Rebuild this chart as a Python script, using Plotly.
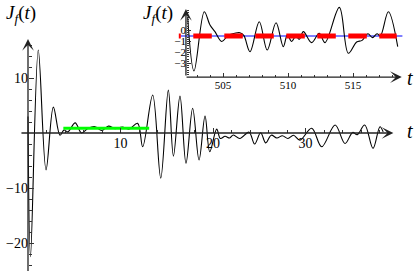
import plotly.graph_objects as go

W, H = 415, 271

# ---------------- data ----------------
t_main = [0.0, 0.27, 1.11, 1.95, 2.74, 3.46, 3.9, 4.3, 5.1, 5.78, 6.5, 7.24, 7.97,
          8.7, 9.4, 10.2, 10.9, 11.85, 12.4, 13.48, 14.35, 15.17, 15.72, 16.43,
          17.08, 17.8, 18.49, 19.14, 19.65, 20.4, 20.8, 21.3, 21.8, 22.2, 22.9,
          23.9, 24.5, 25.15, 25.7, 26.3, 26.9, 27.5, 28.1, 28.7, 29.4, 30.67,
          31.75, 33.2, 34.27, 35.1, 35.6, 36.4, 37.3, 38.05, 38.4]
f_main = [3.0, -22.5, 15.1, -6.7, 4.7, -0.4, 0.55, 0.2, 1.85, 0.0, 0.85, 1.15, 0.45,
          1.25, 0.8, 1.1, 0.7, 1.75, -2.5, 6.9, -8.2, 7.8, -4.2, 6.7,
          -5.5, 4.5, -4.9, 3.1, -3.4, 0.7, -1.0, -0.6, -0.9, -0.35, -1.0,
          0.15, -2.0, 0.05, -1.8, -0.4, -0.9, -0.5, -1.0, -0.4, -1.3, 0.85,
          -2.5, 1.45, -1.9, 0.1, -0.3, 1.45, -2.8, 1.15, 0.2]

green_t = [3.82, 13.1]
green_v = [0.85, 0.85]

t_inset = [502.28, 502.77, 503.56, 504.0, 504.38, 504.9, 505.4, 505.92, 506.3,
           506.6, 507.08, 507.79, 508.4, 509.08, 509.64, 509.95, 510.28, 510.6,
           510.87, 511.18, 511.82, 512.4, 512.85, 513.95, 514.64, 515.28, 515.7,
           516.15, 516.5, 516.85, 517.1, 517.72, 518.44]
f_inset = [1.25, -3.68, 1.71, 0.5, -0.1, -1.0, -0.45, -0.25, -0.2,
           -0.45, -1.93, 0.8, -1.77, 0.71, -1.47, -0.4, -1.0, -0.5,
           -0.8, -0.1, -1.1, -0.25, -1.1, 2.1, -2.07, -1.05, -0.9,
           -0.3, -0.65, -0.3, -0.5, 1.7, -1.47]

blue_t = [501.75, 518.8]
blue_v = [-0.5, -0.5]
red_t = [501.6, 518.36]
red_v = [-0.5, -0.5]

main_xticks = [10, 20, 30]
main_yticks = [-20, -10, 10]
inset_xticks = [505, 510, 515]
inset_yticks = [0, -1, -2, -3]

# ---------------- pixel mapping of the two coordinate systems ----------------
MX0, MXS = 28.0, 9.25     # main: pixel x of t=0, px per unit
MY0, MYS = 133.0, 5.5     # main: pixel y of 0, px per unit
IX0, IXS = 223.0, 13.0    # inset: pixel x of t=505, px per unit
IY0, IYS = 30.5, 11.0     # inset: pixel y of 0, px per unit

mx_range = [-MX0 / MXS, (W - MX0) / MXS]
my_range = [(MY0 - H) / MYS, MY0 / MYS]
ix_range = [505 - IX0 / IXS, 505 + (W - IX0) / IXS]
iy_range = [(IY0 - H) / IYS, IY0 / IYS]

def fx(v, r):
    return (v - r[0]) / (r[1] - r[0])

inset_xaxis_v = -4.23
inset_yaxis_t = 502.15

serif = "Liberation Serif, Times New Roman, serif"
axcol = "#333333"

fig = go.Figure()

# main
fig.add_trace(go.Scatter(x=t_main, y=f_main, mode="lines",
                         line=dict(color="black", width=1.1, shape="spline", smoothing=1.0),
                         xaxis="x", yaxis="y", hoverinfo="skip"))
fig.add_trace(go.Scatter(x=green_t, y=green_v, mode="lines",
                         line=dict(color="#00ff00", width=3),
                         xaxis="x", yaxis="y", hoverinfo="skip"))
# inset
fig.add_trace(go.Scatter(x=blue_t, y=blue_v, mode="lines",
                         line=dict(color="#0000ff", width=1.2),
                         xaxis="x2", yaxis="y2", hoverinfo="skip"))
fig.add_trace(go.Scatter(x=t_inset, y=f_inset, mode="lines",
                         line=dict(color="black", width=1.1, shape="spline", smoothing=1.0),
                         xaxis="x2", yaxis="y2", hoverinfo="skip"))
fig.add_trace(go.Scatter(x=red_t, y=red_v, mode="lines",
                         line=dict(color="#ff0000", width=5, dash="2px,12.5px,16.5px,0px"),
                         xaxis="x2", yaxis="y2", hoverinfo="skip"))

def minor_vals(lo, hi, step, exclude):
    out = []
    n = int(round((hi - lo) / step))
    for i in range(n + 1):
        v = round(lo + i * step, 4)
        if all(abs(v - e) > 1e-6 for e in exclude):
            out.append(v)
    return out

common = dict(showgrid=False, zeroline=False, showline=False, ticks="inside",
              tickcolor=axcol, tickwidth=1, fixedrange=True, automargin=False)

fig.update_layout(
    width=W, height=H, autosize=False,
    margin=dict(l=0, r=0, t=0, b=0, pad=0, autoexpand=False),
    paper_bgcolor="white", plot_bgcolor="rgba(0,0,0,0)",
    showlegend=False,
    xaxis=dict(domain=[0, 1], range=mx_range, anchor="free",
               position=fx(0, my_range),
               tickmode="array", tickvals=main_xticks,
               ticktext=[str(v) for v in main_xticks], ticklen=5,
               minor=dict(tickmode="array", tickvals=minor_vals(2, 38, 2, main_xticks),
                          ticklen=3, tickcolor=axcol, ticks="inside"),
               tickfont=dict(family=serif, size=14, color="black"), **common),
    yaxis=dict(domain=[0, 1], range=my_range, anchor="free",
               position=fx(0, mx_range),
               tickmode="array", tickvals=main_yticks,
               ticktext=[("\u2212" + str(-v)) if v < 0 else str(v) for v in main_yticks],
               ticklen=5,
               minor=dict(tickmode="array", tickvals=minor_vals(-24, 16, 2, main_yticks + [0]),
                          ticklen=3, tickcolor=axcol, ticks="inside"),
               tickfont=dict(family=serif, size=14, color="black"), **common),
    xaxis2=dict(domain=[0, 1], range=ix_range, anchor="free",
                position=fx(inset_xaxis_v, iy_range),
                tickmode="array", tickvals=inset_xticks,
                ticktext=[str(v) for v in inset_xticks], ticklen=4,
                minor=dict(tickmode="array",
                           tickvals=minor_vals(503, 518, 1, inset_xticks),
                           ticklen=2, tickcolor=axcol, ticks="inside"),
                tickfont=dict(family=serif, size=11, color="black"), **common),
    yaxis2=dict(domain=[0, 1], range=iy_range, anchor="free",
                position=fx(inset_yaxis_t, ix_range),
                tickmode="array", tickvals=inset_yticks,
                ticktext=[("\u2212" + str(-v)) if v < 0 else str(v) for v in inset_yticks],
                ticklen=4,
                minor=dict(tickmode="array",
                           tickvals=minor_vals(-4.0, 1.8, 0.2, inset_yticks),
                           ticklen=2, tickcolor=axcol, ticks="inside"),
                tickfont=dict(family=serif, size=11, color="black"), **common),
)

# axis lines with arrow heads
def axis_arrow(xref, yref, x0, y0, x1, y1):
    fig.add_annotation(x=x1, y=y1, ax=x0, ay=y0, xref=xref, yref=yref,
                       axref=xref, ayref=yref, text="", showarrow=True,
                       arrowhead=3, arrowsize=1.5, arrowwidth=1.3,
                       arrowcolor="#222222", standoff=0, startstandoff=0)

axis_arrow("x", "y", -0.87, 0, 39.5, 0)
axis_arrow("x", "y", 0, -25.5, 0, 17.1)
axis_arrow("x2", "y2", 502.08, inset_xaxis_v, 518.75, inset_xaxis_v)
axis_arrow("x2", "y2", inset_yaxis_t, inset_xaxis_v, inset_yaxis_t, 1.95)

# axis labels
def label(text, px, py, size, anchor="left"):
    fig.add_annotation(x=px / W, y=1 - py / H, xref="paper", yref="paper",
                       text=text, showarrow=False, xanchor=anchor, yanchor="middle",
                       font=dict(family=serif, size=size, color="black"))

ylab = "<i>J</i><sub><i>f</i></sub>(<i>t</i>)"
label(ylab, 4, 14, 19)
label(ylab, 141, 14, 19)
label("<i>t</i>", 410, 131, 20, "center")
label("<i>t</i>", 410, 78, 20, "center")

fig.write_html("out.html", config={"displayModeBar": False, "staticPlot": True},
               post_script="document.body.style.margin='0px';document.body.style.overflow='hidden';")
